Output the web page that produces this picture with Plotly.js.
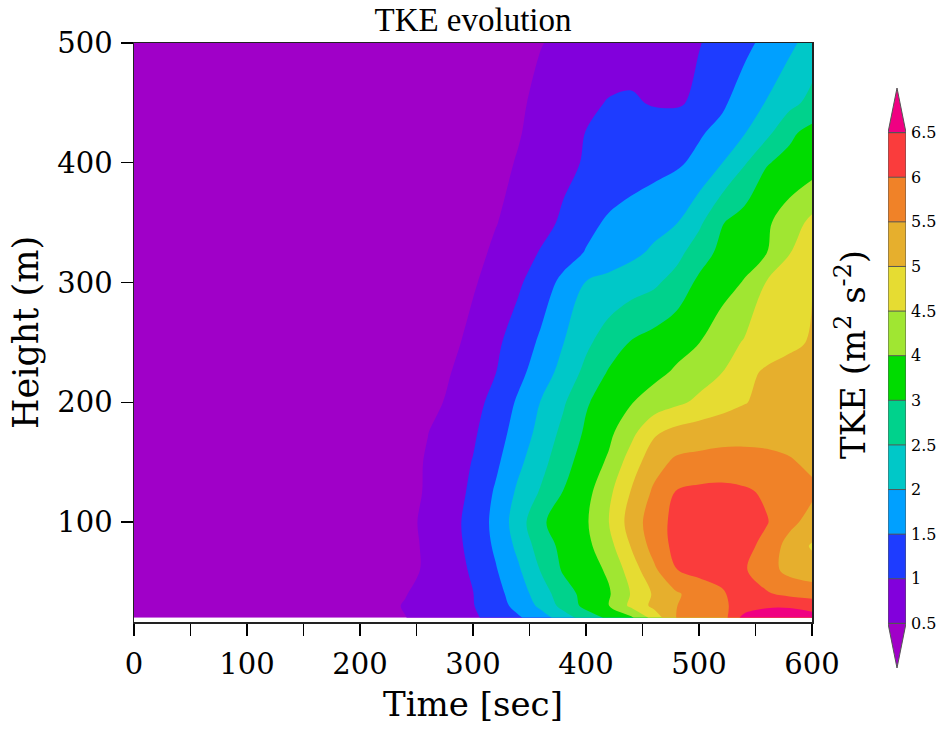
<!DOCTYPE html>
<html><head><meta charset="utf-8">
<script src="https://cdn.plot.ly/plotly-3.0.1.min.js"></script>
<style>html,body{margin:0;padding:0;background:#fff}#chart{width:940px;height:729px}</style>
</head><body><div id="chart"></div>
<script>
// Time axis (s) and height axis (m)
const times = [0,50,100,150,200,220,240,260,280,300,320,340,360,380,400,420,440,460,480,500,520,540,560,580,600];
const heights = [20,30,40,60,80,100,125,150,175,200,225,250,300,325,350,400,425,450,500];

// TKE (m2 s-2) per height row, one value per time above
const tke20  = [0.02,0.05,0.10,0.16,0.26,0.35,0.49,0.64,0.79,0.93,1.16,1.44,1.77,2.25,2.74,3.17,3.83,4.69,5.51,5.60,5.75,6.70,6.90,6.85,6.70];
const tke30  = [0.02,0.05,0.10,0.17,0.28,0.38,0.53,0.68,0.83,0.98,1.28,1.65,2.11,2.67,3.28,3.97,4.61,5.12,5.49,5.71,5.93,6.15,6.40,6.42,6.30];
const tke40  = [0.02,0.05,0.10,0.17,0.28,0.37,0.48,0.66,0.83,0.99,1.33,1.75,2.25,2.78,3.33,3.89,4.53,5.06,5.44,5.71,5.95,6.20,6.05,5.88,5.80];
const tke60  = [0.02,0.05,0.10,0.16,0.25,0.30,0.35,0.58,0.81,1.06,1.46,1.93,2.53,3.12,3.58,4.07,4.73,5.40,5.99,6.15,6.15,6.05,5.70,5.35,5.20];
const tke80  = [0.02,0.05,0.10,0.16,0.24,0.29,0.34,0.59,0.83,1.13,1.58,2.12,2.73,3.28,3.74,4.32,5.03,5.69,6.15,6.25,6.25,6.15,5.85,5.30,4.95];
const tke100 = [0.02,0.05,0.10,0.16,0.24,0.29,0.37,0.61,0.85,1.16,1.64,2.25,2.93,3.42,3.88,4.49,5.22,5.76,6.15,6.30,6.30,6.20,6.03,5.65,5.30];
const tke125 = [0.02,0.05,0.10,0.16,0.24,0.28,0.32,0.56,0.80,1.09,1.56,2.09,2.55,3.03,3.68,4.38,5.03,5.58,6.03,6.12,6.15,6.08,5.92,5.75,5.60];
const tke150 = [0.02,0.05,0.10,0.16,0.24,0.28,0.31,0.55,0.78,1.02,1.40,1.89,2.33,2.83,3.44,4.07,4.75,5.30,5.60,5.65,5.68,5.66,5.62,5.55,5.40];
const tke175 = [0.02,0.05,0.10,0.15,0.23,0.27,0.30,0.49,0.72,0.93,1.28,1.70,2.16,2.63,3.15,3.76,4.35,4.92,5.15,5.25,5.32,5.35,5.35,5.30,5.25];
const tke200 = [0.02,0.05,0.09,0.14,0.21,0.24,0.27,0.30,0.60,0.84,1.15,1.57,2.02,2.44,2.95,3.45,3.95,4.19,4.40,4.60,4.79,4.97,5.15,5.30,5.40];
const tke225 = [0.02,0.04,0.08,0.12,0.17,0.19,0.22,0.30,0.49,0.74,0.99,1.36,1.75,2.17,2.63,3.08,3.42,3.76,4.06,4.28,4.49,4.85,5.08,5.20,5.30];
const tke250 = [0.02,0.04,0.07,0.11,0.15,0.17,0.20,0.25,0.38,0.64,0.91,1.22,1.58,1.99,2.40,2.74,3.06,3.37,3.68,3.98,4.28,4.54,4.71,4.88,5.05];
const tke300 = [0.02,0.03,0.06,0.09,0.13,0.15,0.17,0.21,0.28,0.45,0.69,0.93,1.25,1.63,2.02,2.15,2.28,2.41,2.69,3.20,3.61,4.03,4.53,4.77,4.98];
const tke325 = [0.02,0.03,0.06,0.08,0.12,0.14,0.16,0.19,0.25,0.36,0.58,0.80,1.03,1.28,1.53,1.70,1.88,2.08,2.34,2.77,3.25,3.62,3.99,4.48,4.80];
const tke350 = [0.02,0.03,0.05,0.08,0.11,0.13,0.15,0.18,0.23,0.33,0.48,0.67,0.86,1.07,1.36,1.57,1.71,1.84,1.98,2.40,2.97,3.41,3.85,4.26,4.62];
const tke400 = [0.02,0.03,0.05,0.07,0.10,0.12,0.14,0.17,0.21,0.28,0.38,0.53,0.71,0.89,1.04,1.14,1.24,1.33,1.43,1.61,1.98,2.45,2.97,3.25,3.50];
const tke425 = [0.02,0.03,0.05,0.07,0.10,0.11,0.13,0.16,0.20,0.26,0.35,0.47,0.65,0.84,1.01,1.10,1.19,1.27,1.36,1.45,1.63,1.97,2.37,2.91,3.30];
const tke450 = [0.02,0.03,0.05,0.07,0.10,0.11,0.13,0.16,0.20,0.25,0.33,0.45,0.58,0.73,0.89,1.03,1.06,0.96,0.93,1.11,1.42,1.72,2.03,2.35,2.65];
const tke500 = [0.02,0.03,0.04,0.06,0.09,0.10,0.12,0.15,0.19,0.24,0.31,0.39,0.49,0.56,0.63,0.70,0.77,0.84,0.91,0.98,1.15,1.38,1.63,1.89,2.20];

// Contour levels (non-uniform) and colorbar labels
const levels = [0.5,1,1.5,2,2.5,3,4,4.5,5,5.5,6,6.5];
const levelLabels = ['0.5','1','1.5','2','2.5','3','4','4.5','5','5.5','6','6.5'];
const bandColors = ['#A000C8','#8200DC','#1E3CFF','#00A0FF','#00C8C8','#00D28C','#00DC00',
                    '#A0E632','#E6DC32','#E6AF2D','#F08228','#FA3C3C','#F00082'];

const tkeRows = [tke20,tke30,tke40,tke60,tke80,tke100,tke125,tke150,tke175,tke200,tke225,tke250,
                 tke300,tke325,tke350,tke400,tke425,tke450,tke500];

// map a value onto "level index" space so that uneven levels become evenly spaced
function toIndex(v){
  if (v < levels[0]) return v/levels[0];
  for (let i=0;i<levels.length-1;i++){
    if (v < levels[i+1]) return (i+1) + (v-levels[i])/(levels[i+1]-levels[i]);
  }
  return levels.length + (v-levels[levels.length-1])/0.5;
}
const zIdx = tkeRows.map(r => r.map(toIndex));
const nL = levels.length;
const colorscale = bandColors.map((c,k)=>[k/nL, c]);

const W = 940, H = 729;
const px = v => v/W, py = v => 1 - v/H;

const contour = {
  type:'contour', x: times, y: heights, z: zIdx,
  autocontour:false,
  contours:{start:1, end:nL, size:1, coloring:'fill', showlines:false},
  colorscale: colorscale, showscale:false,
  line:{width:0, smoothing:1},
  hoverinfo:'skip'
};

// colour key drawn as a one-column heatmap on its own axes
const cbCenters = levels.slice(0,-1).map((_,i)=> i+1.5);
const cbZ = cbCenters.map((_,i)=>[i+1]);
const key = {
  type:'heatmap', x:[0], y: cbCenters, z: cbZ, zmin:0, zmax:nL,
  colorscale: colorscale, showscale:false, xaxis:'x2', yaxis:'y2', hoverinfo:'skip'
};

const edge = '#555';
const shapes = [
  {type:'path', xref:'x2', yref:'y2', path:`M -0.5,1 L 0.5,1 L 0,0 Z`,
   fillcolor: bandColors[0], line:{color:edge, width:1}},
  {type:'path', xref:'x2', yref:'y2', path:`M -0.5,${nL} L 0.5,${nL} L 0,${nL+1} Z`,
   fillcolor: bandColors[nL], line:{color:edge, width:1}},
  {type:'rect', xref:'x2', yref:'y2', x0:-0.5, x1:0.5, y0:1, y1:nL,
   fillcolor:'rgba(0,0,0,0)', line:{color:edge, width:1}}
];
for (let k=2;k<nL;k++){
  shapes.push({type:'line', xref:'x2', yref:'y2', x0:-0.5, x1:0.5, y0:k, y1:k, line:{color:edge, width:1}});
}

const tickFont = {family:'DejaVu Serif', size:29, color:'#000'};
const layout = {
  width: W, height: H,
  margin:{l:0, r:0, t:0, b:0},
  paper_bgcolor:'#fff', plot_bgcolor:'#fff',
  showlegend:false,
  title:{text:'TKE evolution', font:{family:'Liberation Serif', size:33, color:'#000'},
         x: px(473), xanchor:'center', xref:'paper', y: py(19), yanchor:'middle', yref:'container'},
  xaxis:{domain:[px(134), px(812)], range:[0,600], tick0:0, dtick:100,
         ticks:'outside', ticklen:12, tickwidth:1.3, tickcolor:'#000',
         minor:{dtick:50, ticks:'outside', ticklen:12, tickwidth:1.3, tickcolor:'#000', showgrid:false},
         showline:true, linecolor:'#222', linewidth:1.5, mirror:true,
         showgrid:false, zeroline:false, tickfont:tickFont, ticklabelstandoff:4,
         title:{text:'Time [sec]', font:{family:'DejaVu Serif', size:34, color:'#000'}, standoff:12}},
  yaxis:{domain:[py(622), py(43)], range:[16.5,500], tickvals:[100,200,300,400,500],
         ticks:'outside', ticklen:12, tickwidth:1.3, tickcolor:'#000',
         showline:true, linecolor:'#222', linewidth:1.5, mirror:true,
         showgrid:false, zeroline:false, tickfont:tickFont, ticklabelstandoff:2,
         title:{text:'Height (m)', font:{family:'DejaVu Serif', size:35, color:'#000'}, standoff:8}},
  xaxis2:{domain:[px(888), px(906)], range:[-0.5,0.5], visible:false, anchor:'y2', fixedrange:true},
  yaxis2:{domain:[py(668), py(88)], range:[0,nL+1], anchor:'x2', side:'right',
          tickvals: levels.map((_,i)=>i+1), ticktext: levelLabels, ticks:'',
          showgrid:false, zeroline:false, showline:false, ticklabelstandoff:4,
          tickfont:{family:'DejaVu Serif', size:16, color:'#000'}, fixedrange:true},
  shapes: shapes,
  annotations:[{text:'TKE (m<sup>2</sup> s<sup>-2</sup>)', xref:'paper', yref:'paper',
                x: px(851), y: py(355), xanchor:'center', yanchor:'middle', textangle:-90,
                showarrow:false, font:{family:'DejaVu Serif', size:34, color:'#000'}}]
};

Plotly.newPlot('chart', [contour, key], layout, {staticPlot:true, displayModeBar:false});
</script></body></html>
